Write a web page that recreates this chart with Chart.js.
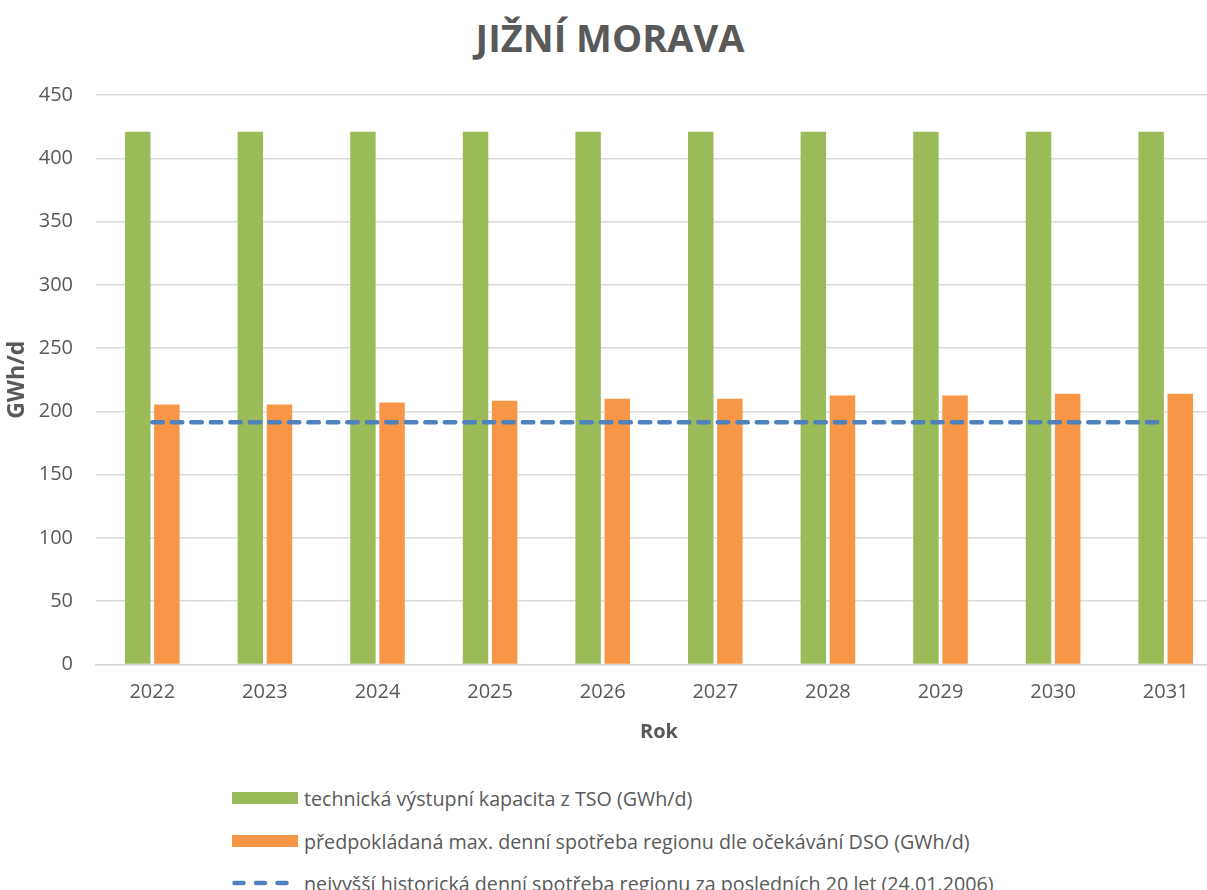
<!DOCTYPE html>
<html lang="cs">
<head>
<meta charset="utf-8">
<title>Jižní Morava</title>
<script src="https://cdn.jsdelivr.net/npm/chart.js@4"></script>
<style>
  html, body { margin: 0; padding: 0; background: #fff; overflow: hidden; }
  body { width: 1207px; height: 890px; position: relative; font-family: "Open Sans", sans-serif; color: #595959; }
  #chartTitle { position: absolute; left: 0; top: 15px; width: 1220px; text-align: center; font-size: 38px; font-weight: bold; line-height: 44px; }
  #chartWrap { position: absolute; left: 0; top: 0; width: 1240px; height: 760px; }
  #legend { position: absolute; left: 232px; top: 787px; }
  .legendRow { position: absolute; left: 0; height: 22px; display: flex; align-items: center; white-space: nowrap; font-size: 19.7px; }
  .legendRow .swatch { width: 66px; height: 12px; margin-right: 6px; }
</style>
</head>
<body>
<div id="chartTitle">JIŽNÍ MORAVA</div>
<div id="chartWrap"><canvas id="moravaChart" width="1240" height="760"></canvas></div>
<div id="legend"></div>
<script>
// data
var years = ['2022', '2023', '2024', '2025', '2026', '2027', '2028', '2029', '2030', '2031'];
var tsoCapacity = [421, 421, 421, 421, 421, 421, 421, 421, 421, 421];
var dsoForecast = [205.5, 205.5, 207, 208.5, 210, 210, 212.5, 212.5, 214, 214];
var historicMax = [191.5, 191.5, 191.5, 191.5, 191.5, 191.5, 191.5, 191.5, 191.5, 191.5];
var yTicks = [0, 50, 100, 150, 200, 250, 300, 350, 400, 450];

var labelTso = 'technická výstupní kapacita z TSO (GWh/d)';
var labelDso = 'předpokládaná max. denní spotřeba regionu dle očekávání DSO (GWh/d)';
var labelHist = 'nejvyšší historická denní spotřeba regionu za posledních 20 let (24.01.2006)';

var textColor = '#595959';
var gridColor = '#d9d9d9';
var fontFamily = '"Open Sans", sans-serif';

var ctx = document.getElementById('moravaChart');
var chart = new Chart(ctx, {
  type: 'bar',
  data: {
    labels: years,
    datasets: [
      {
        label: labelTso,
        data: tsoCapacity,
        backgroundColor: '#9bbb59',
        order: 1
      },
      {
        label: labelDso,
        data: dsoForecast,
        backgroundColor: '#f79646',
        order: 2
      },
      {
        // order 0 -> drawn last, on top of the bars
        type: 'line',
        label: labelHist,
        data: historicMax,
        borderColor: '#4f81bd',
        backgroundColor: '#4f81bd',
        borderWidth: 4.5,
        borderDash: [10.5, 9],
        borderCapStyle: 'round',
        pointRadius: 0,
        fill: false,
        order: 0
      }
    ]
  },
  options: {
    responsive: false,
    animation: false,
    layout: { padding: { top: 95, right: 18, left: 0, bottom: 0 } },
    datasets: {
      bar: { categoryPercentage: 0.517, barPercentage: 0.875 }
    },
    plugins: {
      legend: { display: false },
      title: { display: false },
      tooltip: { enabled: false }
    },
    scales: {
      x: {
        grid: { display: false, drawTicks: false },
        border: { display: true, color: gridColor, width: 1.5 },
        ticks: { color: textColor, font: { family: fontFamily, size: 20 }, padding: 16 },
        title: {
          display: true, text: 'Rok', color: textColor,
          font: { family: fontFamily, size: 20, weight: 'bold' },
          padding: { top: 0, bottom: 16 }
        },
        afterFit: function(scale) { scale.height = 95.5; }
      },
      y: {
        min: 0,
        max: 450,
        afterBuildTicks: function(scale) {
          scale.ticks = yTicks.map(function(v) { return { value: v }; });
        },
        grid: { color: gridColor, lineWidth: 1.5, drawTicks: false },
        border: { display: false },
        ticks: { color: textColor, font: { family: fontFamily, size: 20 }, padding: 23 },
        title: {
          display: true, text: 'GWh/d', color: textColor,
          font: { family: fontFamily, size: 23, weight: 'bold' },
          padding: { top: 4, bottom: 0 }
        },
        afterFit: function(scale) { scale.width = 96; }
      }
    }
  }
});

// legend as html, one row per dataset, built from the chart's datasets
var legendRowsTop = [0, 43, 85];
var legendBox = document.getElementById('legend');
chart.data.datasets.forEach(function(ds, i) {
  var row = document.createElement('div');
  row.className = 'legendRow';
  row.style.top = legendRowsTop[i] + 'px';
  var sw;
  if (ds.type === 'line') {
    // three rounded dashes like the excel legend key
    sw = document.createElementNS('http://www.w3.org/2000/svg', 'svg');
    sw.setAttribute('width', '66');
    sw.setAttribute('height', '12');
    sw.style.marginRight = '6px';
    var ln = document.createElementNS('http://www.w3.org/2000/svg', 'line');
    ln.setAttribute('x1', '2.5');
    ln.setAttribute('x2', '54.5');
    ln.setAttribute('y1', '6');
    ln.setAttribute('y2', '6');
    ln.setAttribute('stroke', ds.borderColor);
    ln.setAttribute('stroke-width', ds.borderWidth);
    ln.setAttribute('stroke-linecap', 'round');
    ln.setAttribute('stroke-dasharray', '9 12.5');
    sw.appendChild(ln);
  } else {
    sw = document.createElement('span');
    sw.className = 'swatch';
    sw.style.background = ds.backgroundColor;
  }
  var txt = document.createElement('span');
  txt.textContent = ds.label;
  row.appendChild(sw);
  row.appendChild(txt);
  legendBox.appendChild(row);
});
</script>
</body>
</html>
